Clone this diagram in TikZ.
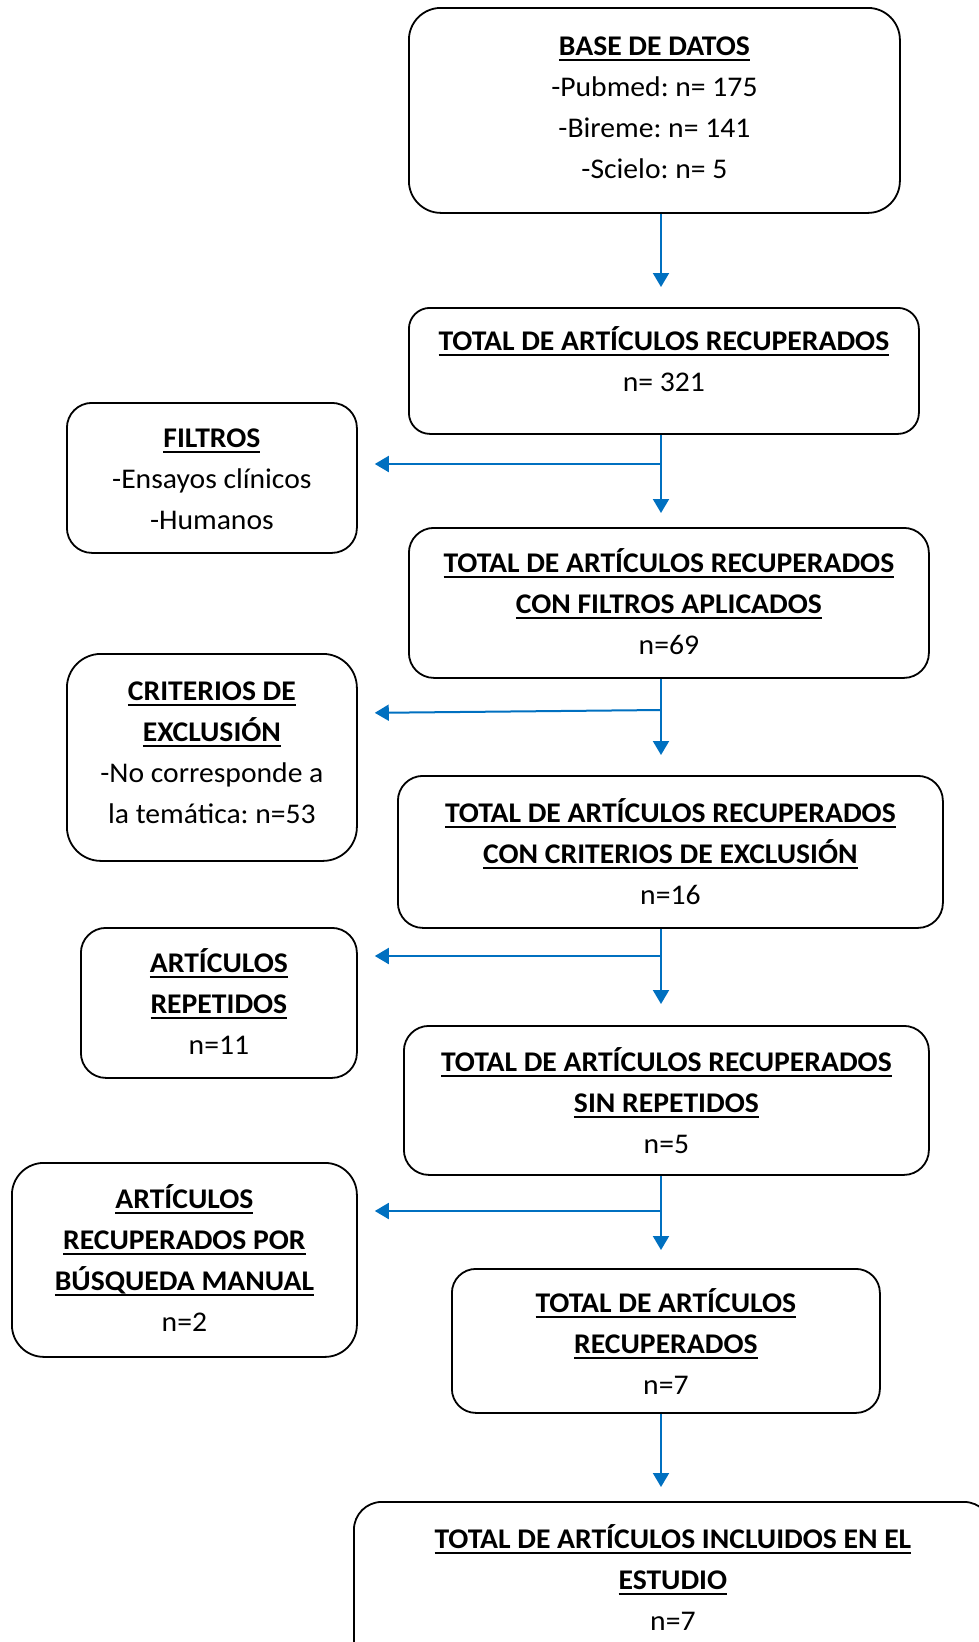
\documentclass[tikz,border=0pt]{standalone}
\usepackage{fontspec}
\setmainfont{Carlito}[FakeStretch=1.04]
\usepackage{tikz}
\usetikzlibrary{arrows.meta}
\definecolor{azul}{RGB}{0,112,192}
\newcommand{\titulo}[1]{\leavevmode{\setbox0\hbox{\textbf{#1}}\rlap{\rule[-5pt]{\wd0}{1.9pt}}\box0}}
\tikzstyle{caja} = [draw=black, line width=1.8pt, rectangle, inner sep=0pt,
    anchor=north west, font=\fontsize{28.5}{41}\selectfont\frenchspacing]
\tikzstyle{flecha} = [draw=azul, line width=2pt,
    -{Triangle[length=14pt,width=16pt]}, shorten >=17pt]

\begin{document}
\begin{tikzpicture}[x=1pt,y=-1pt]
\useasboundingbox (0,0) rectangle (979,1642);
\coordinate (eje) at (661,0);

\node [caja, rounded corners=32pt] (base) at (408,7) {%
    \begin{minipage}[c][205pt][t]{491pt}
      \centering\rule{0pt}{48pt}\titulo{BASE DE DATOS}\\
      -Pubmed: n= 175\\
      -Bireme: n= 141\\
      -Scielo: n= 5
    \end{minipage}
};

\node [caja, rounded corners=21pt] (total) at (408,307) {%
    \begin{minipage}[c][126pt][t]{510pt}
      \centering\rule{0pt}{43pt}\titulo{TOTAL DE ARTÍCULOS RECUPERADOS}\\
      n= 321
    \end{minipage}
};

\node [caja, rounded corners=25pt] (filtros) at (66,402) {%
    \begin{minipage}[c][150pt][t]{290pt}
      \centering\rule{0pt}{45pt}\titulo{FILTROS}\\
      -Ensayos clínicos\\
      -Humanos
    \end{minipage}
};

\node [caja, rounded corners=25pt] (filtrados) at (408,527) {%
    \begin{minipage}[c][150pt][t]{520pt}
      \centering\rule{0pt}{45pt}\titulo{TOTAL DE ARTÍCULOS RECUPERADOS}\\
      \titulo{CON FILTROS APLICADOS}\\
      n=69
    \end{minipage}
};

\node [caja, rounded corners=34pt] (criterios) at (66,653) {%
    \begin{minipage}[c][207pt][t]{290pt}
      \centering\rule{0pt}{47pt}\titulo{CRITERIOS DE}\\
      \titulo{EXCLUSIÓN}\\
      -No corresponde a\\
      la temática: n=53
    \end{minipage}
};

\node [caja, rounded corners=25pt] (excluidos) at (397,775) {%
    \begin{minipage}[c][152pt][t]{545pt}
      \centering\rule{0pt}{47pt}\titulo{TOTAL DE ARTÍCULOS RECUPERADOS}\\
      \titulo{CON CRITERIOS DE EXCLUSIÓN}\\
      n=16
    \end{minipage}
};

\node [caja, rounded corners=25pt] (repetidos) at (80,927) {%
    \begin{minipage}[c][150pt][t]{276pt}
      \centering\rule{0pt}{45pt}\titulo{ARTÍCULOS}\\
      \titulo{REPETIDOS}\\
      n=11
    \end{minipage}
};

\node [caja, rounded corners=25pt] (sinrep) at (403,1025) {%
    \begin{minipage}[c][149pt][t]{525pt}
      \centering\rule{0pt}{46pt}\titulo{TOTAL DE ARTÍCULOS RECUPERADOS}\\
      \titulo{SIN REPETIDOS}\\
      n=5
    \end{minipage}
};

\node [caja, rounded corners=32pt] (manual) at (11,1162) {%
    \begin{minipage}[c][194pt][t]{345pt}
      \centering\rule{0pt}{46pt}\titulo{ARTÍCULOS}\\
      \titulo{RECUPERADOS POR}\\
      \titulo{BÚSQUEDA MANUAL}\\
      n=2
    \end{minipage}
};

\node [caja, rounded corners=24pt] (recuperados) at (451,1268) {%
    \begin{minipage}[c][144pt][t]{428pt}
      \centering\rule{0pt}{44pt}\titulo{TOTAL DE ARTÍCULOS}\\
      \titulo{RECUPERADOS}\\
      n=7
    \end{minipage}
};

\node [caja, rounded corners=28pt] (incluidos) at (353,1501) {%
    \begin{minipage}[c][180pt][t]{638pt}
      \centering\rule{0pt}{47pt}\titulo{TOTAL DE ARTÍCULOS INCLUIDOS EN EL}\\
      \titulo{ESTUDIO}\\
      n=7
    \end{minipage}
};

\coordinate (r1) at (661,464);
\coordinate (r2) at (661,710);
\coordinate (r3) at (661,956);
\coordinate (r4) at (661,1211);

\draw [flecha, shorten >=20pt] (base.south -| eje) -- (total.north -| eje);
\draw [flecha, shorten >=14pt] (total.south -| eje) -- (filtrados.north -| eje);
\draw [flecha] (r1) -- (r1 -| filtros.east);
\draw [flecha, shorten >=20pt] (filtrados.south -| eje) -- (excluidos.north -| eje);
\draw [flecha] (r2) -- ([yshift=-3pt]r2 -| criterios.east);
\draw [flecha, shorten >=21pt] (excluidos.south -| eje) -- (sinrep.north -| eje);
\draw [flecha] (r3) -- (r3 -| repetidos.east);
\draw [flecha, shorten >=18pt] (sinrep.south -| eje) -- (recuperados.north -| eje);
\draw [flecha] (r4) -- (r4 -| manual.east);
\draw [flecha, shorten >=14pt] (recuperados.south -| eje) -- (incluidos.north -| eje);

\end{tikzpicture}
\end{document}
